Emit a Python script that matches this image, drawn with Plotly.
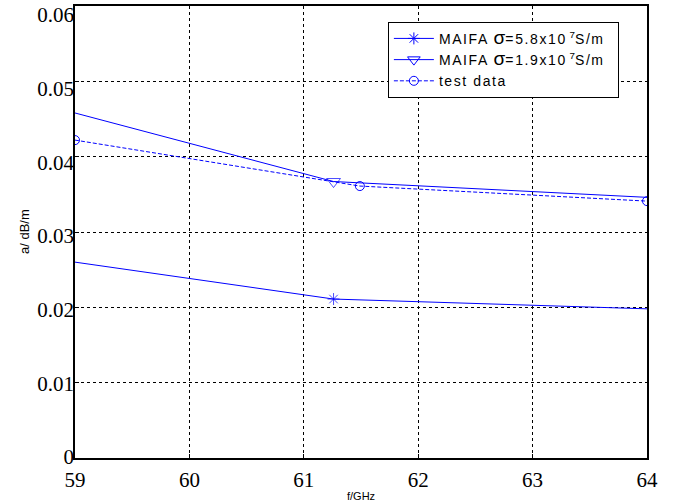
import plotly.graph_objects as go

freq1 = [59, 61.26, 64]
alpha1 = [0.0260, 0.0211, 0.0198]
freq2 = [59, 61.26, 64]
alpha2 = [0.0458, 0.0367, 0.0346]
freq3 = [59, 61.49, 64]
alpha3 = [0.0422, 0.0361, 0.0341]

LS = "letter-spacing:1.6px"
names = [
    f"<span style='{LS}'>MAIFA </span><span style='font-size:19px'>σ</span><span style='{LS}'>=5.8x10</span><sup> 7</sup><span style='{LS}'>S/m</span>&nbsp;&nbsp;",
    f"<span style='{LS}'>MAIFA </span><span style='font-size:19px'>σ</span><span style='{LS}'>=1.9x10</span><sup> 7</sup><span style='{LS}'>S/m</span>&nbsp;&nbsp;",
    f"<span style='{LS}'>test data</span>",
]

xticks = [59, 60, 61, 62, 63, 64]
yticks = [0, 0.01, 0.02, 0.03, 0.04, 0.05, 0.06]
yticktext = ["0", "0.01", "0.02", "0.03", "0.04", "0.05", "0.06"]

blue = "#0000ff"
fig = go.Figure()
fig.add_trace(go.Scatter(
    x=freq1, y=alpha1, mode="lines+markers", showlegend=False,
    line=dict(color=blue, width=1),
    marker=dict(symbol="asterisk-open", size=[0, 10, 0], color=blue, line=dict(color=blue, width=1)),
))
fig.add_trace(go.Scatter(
    x=freq2, y=alpha2, mode="lines+markers", showlegend=False,
    line=dict(color=blue, width=1),
    marker=dict(symbol="triangle-down-open", size=[0, 12, 0], color=blue, line=dict(color=blue, width=1)),
))
fig.add_trace(go.Scatter(
    x=freq3, y=alpha3, mode="lines+markers", showlegend=False,
    line=dict(color=blue, width=1, dash="4px,2px"),
    marker=dict(symbol="circle-open", size=9, color=blue, line=dict(color=blue, width=1)),
))
legend_styles = [
    ("asterisk-open", 10, "solid"),
    ("triangle-down-open", 11, "solid"),
    ("circle-open", 9, "4px,2px"),
]
for nm, (sym, sz, dash) in zip(names, legend_styles):
    fig.add_trace(go.Scatter(
        x=[None], y=[None], mode="lines+markers", name=nm,
        line=dict(color=blue, width=1, dash=dash),
        marker=dict(symbol=sym, size=sz, color=blue, line=dict(color=blue, width=1)),
    ))
# invisible trace to activate the label axis
fig.add_trace(go.Scatter(x=[None], y=[None], yaxis="y2", showlegend=False, hoverinfo="skip"))

tickfont = dict(family="Liberation Serif, DejaVu Serif, serif", size=21, color="black")
axis_common = dict(
    showline=True, mirror=True, linecolor="black", linewidth=2,
    showgrid=True, gridcolor="black", griddash="3px,3px", gridwidth=1,
    ticks="inside", ticklen=4, tickcolor="black", zeroline=False,
    automargin=False, ticklabeloverflow="allow", tickfont=tickfont,
)
fig.update_xaxes(range=[59, 64], tickvals=xticks, ticklabelstandoff=2, **axis_common)
fig.update_yaxes(range=[0, 0.06], tickvals=yticks, showticklabels=False, **axis_common)
fig.update_layout(yaxis2=dict(
    overlaying="y", side="left", anchor="x", range=[-0.0001357, 0.061222],
    tickvals=yticks, ticktext=yticktext, showgrid=False, showline=False,
    zeroline=False, ticks="", automargin=False, ticklabeloverflow="allow",
    tickfont=tickfont,
))
fig.add_annotation(text="a/ dB/m", xref="paper", yref="paper", x=0, y=0.5, xshift=-51,
                   textangle=-90, showarrow=False, xanchor="center", yanchor="middle",
                   font=dict(family="Liberation Sans", size=13, color="black"))
fig.add_annotation(text="f/GHz", xref="paper", yref="paper", x=0.5, y=0, yshift=-38,
                   showarrow=False, yanchor="middle",
                   font=dict(family="Liberation Sans", size=11, color="black"))
fig.update_layout(
    width=679, height=504,
    margin=dict(l=75, r=32, t=6, b=46),
    plot_bgcolor="white", paper_bgcolor="white",
    legend=dict(x=0.547, y=0.965, xanchor="left", yanchor="top",
                bgcolor="white", bordercolor="black", borderwidth=1,
                font=dict(family="Liberation Sans", size=14, color="black"),
                tracegroupgap=0, itemwidth=40),
    showlegend=True,
)
fig.write_html("out.html", config={"displayModeBar": False},
               post_script="document.body.style.margin='0';")
